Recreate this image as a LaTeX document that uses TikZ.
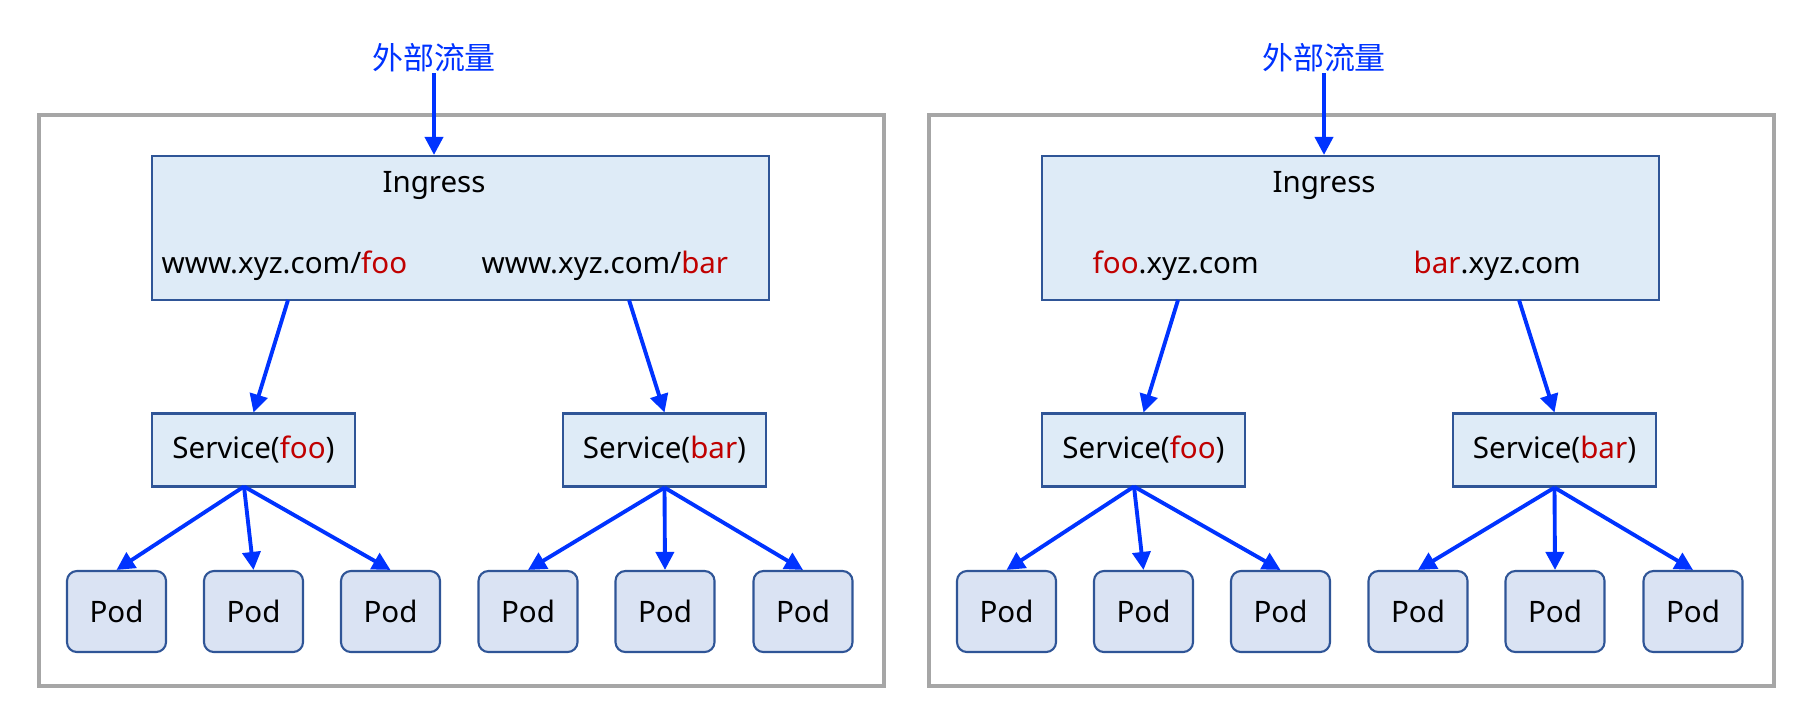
\documentclass[tikz,border=0pt]{standalone}
\usepackage{fontspec}
\setmainfont{Noto Sans}
\newfontfamily\cjk{Noto Sans CJK SC}
\usetikzlibrary{arrows.meta}
\definecolor{flowblue}{HTML}{0033FF}
\definecolor{urlred}{HTML}{C00000}
\definecolor{boxline}{HTML}{2F5597}
\definecolor{boxfill}{HTML}{DEEBF7}
\definecolor{podfill}{HTML}{DAE3F3}
\definecolor{framegray}{HTML}{A6A6A6}
\newcommand{\hl}[1]{\textcolor{urlred}{#1}}
\def\fsize{\fontsize{8.4pt}{10pt}\selectfont}
\def\dx{890}

\begin{document}
\begin{tikzpicture}[x=0.01cm,y=-0.01cm,framerec/.style={draw=framegray,line width=1pt},myrec/.style={rectangle,draw=boxline,line width=0.6pt,fill=boxfill,inner sep=0pt,font=\fsize},ingrec/.style={myrec,minimum width=6.17cm,minimum height=1.44cm},svcrec/.style={myrec,minimum width=2.03cm,minimum height=0.73cm},podrec/.style={myrec,fill=podfill,rounded corners=0.1cm,minimum width=0.99cm,minimum height=0.81cm},ingtext/.style={inner sep=0pt,anchor=base,font=\fsize},urltext/.style={ingtext,anchor=base west},flowtitle/.style={text=flowblue,inner sep=0pt,font=\cjk\fontsize{8.8pt}{10pt}\selectfont},flow/.style={draw=flowblue,line width=1.1pt,-{Triangle[length=0.18cm,width=0.18cm]}}]
			\useasboundingbox (0,0) rectangle (1806,717);
			% path based routing
			\begin{scope}
				\node[flowtitle] (ttlL) at (434,58) {外部流量};
				\draw[framerec] (39,115) rectangle (884,686);
				\node[ingrec] (ingL) at (460.5,228) {};
				\node[ingtext] (ingnameL) at (434,192) {Ingress};
				\node[urltext] (urlfooL) at (161,273) {www.xyz.com/\hl{foo}};
				\node[urltext] (urlbarL) at (481,273) {www.xyz.com/\hl{bar}};
				\node[svcrec] (svcfooL) at (253.5,450) {Service(\hl{foo})};
				\node[svcrec] (svcbarL) at (664.5,450) {Service(\hl{bar})};
				\node[podrec] (p1L) at (116.5,611.5) {Pod};
				\node[podrec] (p2L) at (253.5,611.5) {Pod};
				\node[podrec] (p3L) at (390.5,611.5) {Pod};
				\node[podrec] (p4L) at (528,611.5) {Pod};
				\node[podrec] (p5L) at (665,611.5) {Pod};
				\node[podrec] (p6L) at (803,611.5) {Pod};
				\coordinate (outfooL) at (288,300);
				\coordinate (outbarL) at (629,300);
				\coordinate (srcfooL) at (244,486.5);
				\draw[flow] (ttlL) -- (ttlL |- ingL.north);
				\draw[flow] (outfooL) -- (svcfooL.north);
				\draw[flow] (outbarL) -- (svcbarL.north);
				\draw[flow] (srcfooL) -- (p1L.north);
				\draw[flow] (srcfooL) -- (p2L.north);
				\draw[flow] (srcfooL) -- (p3L.north);
				\draw[flow] (svcbarL.south) -- (p4L.north);
				\draw[flow] (svcbarL.south) -- (p5L.north);
				\draw[flow] (svcbarL.south) -- (p6L.north);
			\end{scope}
			% host based routing
			\begin{scope}[shift={(\dx,0)}]
				\node[flowtitle] (ttlR) at (434,58) {外部流量};
				\draw[framerec] (39,115) rectangle (884,686);
				\node[ingrec] (ingR) at (460.5,228) {};
				\node[ingtext] (ingnameR) at (434,192) {Ingress};
				\node[urltext] (urlfooR) at (202,273) {\hl{foo}.xyz.com};
				\node[urltext] (urlbarR) at (523,273) {\hl{bar}.xyz.com};
				\node[svcrec] (svcfooR) at (253.5,450) {Service(\hl{foo})};
				\node[svcrec] (svcbarR) at (664.5,450) {Service(\hl{bar})};
				\node[podrec] (p1R) at (116.5,611.5) {Pod};
				\node[podrec] (p2R) at (253.5,611.5) {Pod};
				\node[podrec] (p3R) at (390.5,611.5) {Pod};
				\node[podrec] (p4R) at (528,611.5) {Pod};
				\node[podrec] (p5R) at (665,611.5) {Pod};
				\node[podrec] (p6R) at (803,611.5) {Pod};
				\coordinate (outfooR) at (288,300);
				\coordinate (outbarR) at (629,300);
				\coordinate (srcfooR) at (244,486.5);
				\draw[flow] (ttlR) -- (ttlR |- ingR.north);
				\draw[flow] (outfooR) -- (svcfooR.north);
				\draw[flow] (outbarR) -- (svcbarR.north);
				\draw[flow] (srcfooR) -- (p1R.north);
				\draw[flow] (srcfooR) -- (p2R.north);
				\draw[flow] (srcfooR) -- (p3R.north);
				\draw[flow] (svcbarR.south) -- (p4R.north);
				\draw[flow] (svcbarR.south) -- (p5R.north);
				\draw[flow] (svcbarR.south) -- (p6R.north);
			\end{scope}
		\end{tikzpicture}
\end{document}
